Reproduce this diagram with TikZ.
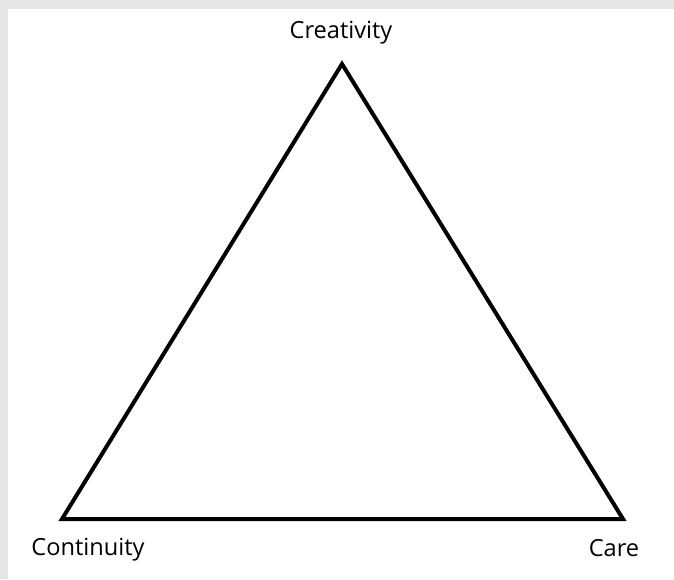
\documentclass[tikz,border=0pt]{standalone}
\usepackage{fontspec}
\setmainfont{Open Sans}
\usetikzlibrary{positioning}
\tikzstyle{lbl}=[font=\fontsize{23.6}{25}\selectfont,inner sep=0pt]
\tikzstyle{edge}=[draw=black,line width=4pt,line join=miter]

\begin{document}
\begin{tikzpicture}[x=1pt,y=1pt]
        \fill[black!10] (0,0) rectangle (674,579);
        \fill[white] (8,0) rectangle (674,570);
        \coordinate (top) at (342,515);
        \coordinate (left) at (62,60);
        \coordinate (right) at (623,60);
        \node[lbl] (cre) at (341,546) {Creativity};
        \node[lbl] (con) at (88,29) {Continuity};
        \node[lbl] (car) at (614,31) {Care};
        \draw[edge] (top) -- (right) -- (left) -- cycle;
      \end{tikzpicture}
\end{document}
